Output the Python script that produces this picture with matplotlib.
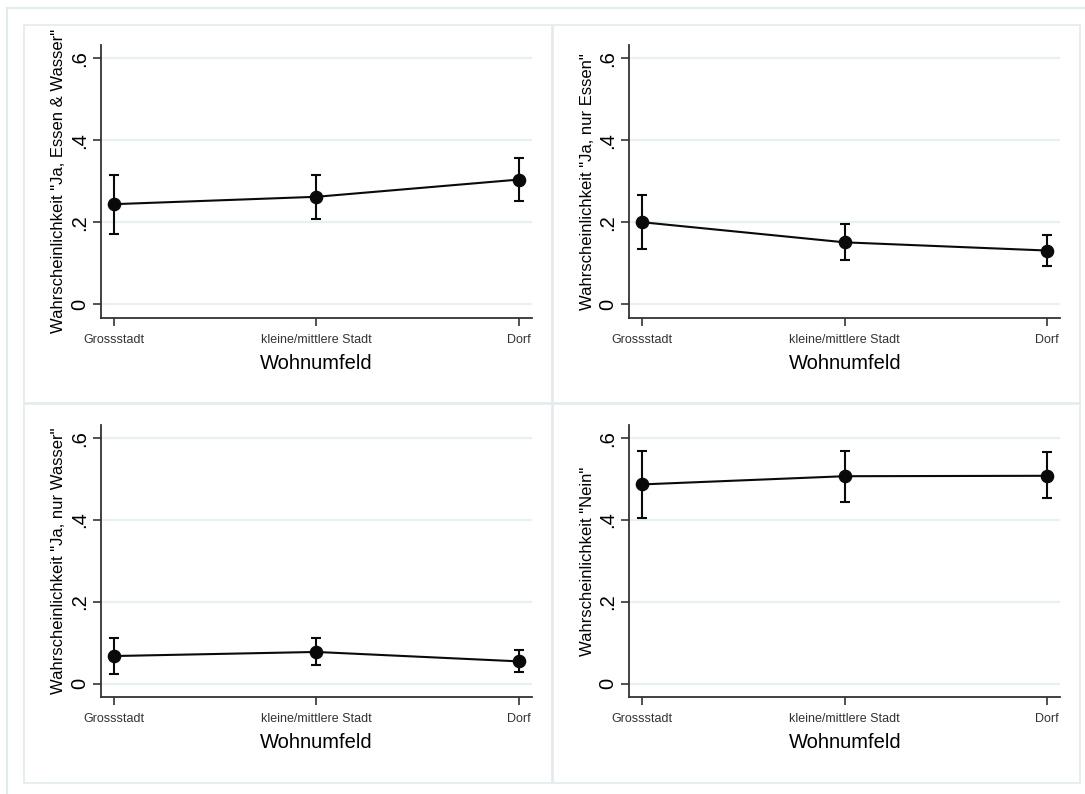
import matplotlib
matplotlib.use('Agg')
import matplotlib.pyplot as plt
from matplotlib.patches import Rectangle
from matplotlib.lines import Line2D

plt.rcParams['font.family'] = ['Liberation Sans', 'DejaVu Sans']

# Daten
wohnumfeld = ['Grossstadt', 'kleine/mittlere Stadt', 'Dorf']
xpos = [1, 2, 3]

ja_beides = [0.244, 0.262, 0.304]
ja_beides_lo = [0.172, 0.207, 0.252]
ja_beides_hi = [0.316, 0.316, 0.356]

nur_essen = [0.200, 0.151, 0.131]
nur_essen_lo = [0.134, 0.108, 0.093]
nur_essen_hi = [0.266, 0.196, 0.168]

nur_wasser = [0.068, 0.078, 0.055]
nur_wasser_lo = [0.024, 0.045, 0.029]
nur_wasser_hi = [0.111, 0.113, 0.083]

nein = [0.487, 0.507, 0.508]
nein_lo = [0.405, 0.445, 0.453]
nein_hi = [0.569, 0.568, 0.565]

ylabels = ['Wahrscheinlichkeit "Ja, Essen & Wasser"',
           'Wahrscheinlichkeit "Ja, nur Essen"',
           'Wahrscheinlichkeit "Ja, nur Wasser"',
           'Wahrscheinlichkeit "Nein"']

W, H = 1085, 794
fig = plt.figure(figsize=(W / 100, H / 100), dpi=100)
fig.patch.set_facecolor('white')

frame_col = '#e3ebee'
grid_col = '#e8f0f2'

# aeusserer Rahmen (nur links/oben sichtbar)
fig.add_artist(Line2D([7 / W, 7 / W], [0, 1 - 8 / H], transform=fig.transFigure, color=frame_col, lw=1.5))
fig.add_artist(Line2D([7 / W, 1], [1 - 8 / H, 1 - 8 / H], transform=fig.transFigure, color=frame_col, lw=1.5))

# Panel-Rahmen
for (x0, y0, x1, y1) in [(24, 25, 552, 403), (553, 25, 1080, 403), (24, 404, 552, 783), (553, 404, 1080, 783)]:
    fig.add_artist(Rectangle((x0 / W, 1 - y1 / H), (x1 - x0) / W, (y1 - y0) / H,
                             transform=fig.transFigure, fill=False, ec=frame_col, lw=1.2))

# Achsenpositionen in Pixel (links, rechts, oben, unten)
boxes = [(100.7, 532, 45, 317.7), (629.3, 1060.3, 45, 317.7),
         (100.7, 532, 425, 697.3), (629.3, 1060.3, 425, 697.3)]

series = [(ja_beides, ja_beides_lo, ja_beides_hi),
          (nur_essen, nur_essen_lo, nur_essen_hi),
          (nur_wasser, nur_wasser_lo, nur_wasser_hi),
          (nein, nein_lo, nein_hi)]

for (l, r, t, b), (y, lo, hi), lab in zip(boxes, series, ylabels):
    ax = fig.add_axes([l / W, 1 - b / H, (r - l) / W, (b - t) / H])
    yerr = [[v - a for v, a in zip(y, lo)], [c - v for v, c in zip(y, hi)]]
    ax.errorbar(xpos, y, yerr=yerr, fmt='o-', color='#0a0a0a', lw=1.5, elinewidth=1.5,
                capsize=3.8, capthick=1.5, markersize=8.8, zorder=3)
    ax.set_xlim(0.936, 3.065)
    ax.set_ylim(-0.0327, 0.632)
    ax.set_yticks([0, 0.2, 0.4, 0.6])
    ax.set_yticklabels(['0', '.2', '.4', '.6'], rotation=90, va='center', fontsize=14.5)
    ax.set_xticks(xpos)
    ax.set_xticklabels(wohnumfeld, fontsize=9, color='#333333')
    ax.grid(axis='y', color=grid_col, lw=1.6)
    ax.set_axisbelow(True)
    for s in ['top', 'right']:
        ax.spines[s].set_visible(False)
    for s in ['left', 'bottom']:
        ax.spines[s].set_color('#333333')
        ax.spines[s].set_linewidth(1.3)
    ax.tick_params(axis='both', length=5.5, width=1.2, color='#333333')
    ax.tick_params(axis='y', pad=3)
    ax.tick_params(axis='x', pad=6)
    ax.set_ylabel(lab, fontsize=12)
    ax.yaxis.set_label_coords(-0.08, 0.5)
    ax.set_xlabel('Wohnumfeld', fontsize=14.5)
    ax.xaxis.set_label_coords(0.5, -0.132)

fig.savefig('out.png', dpi=100, facecolor='white')
